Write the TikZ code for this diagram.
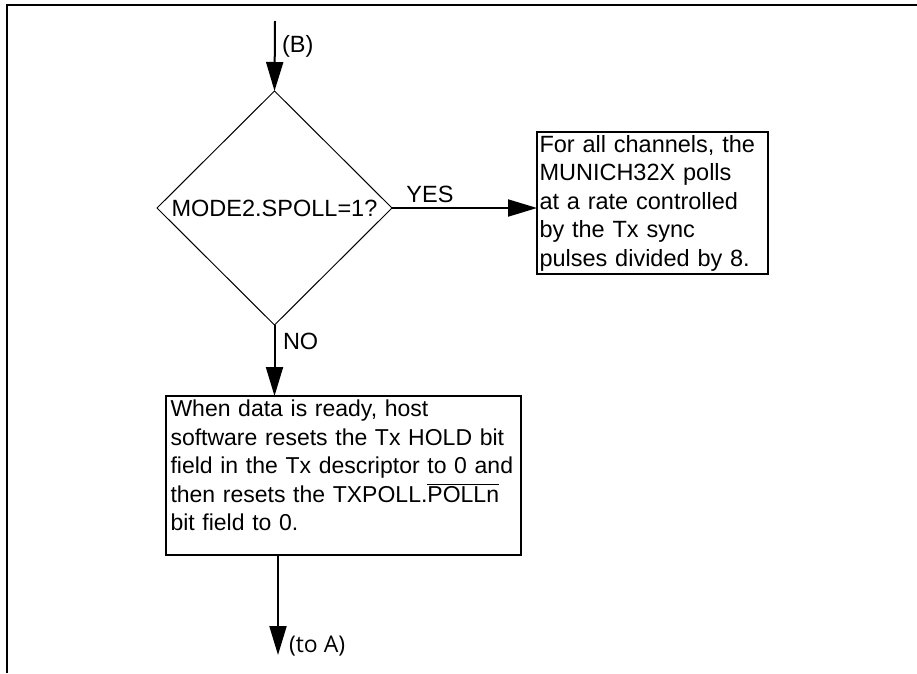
\documentclass[tikz,border=0pt]{standalone}
\usepackage{fontspec}
\setmainfont{Liberation Sans}
\newfontfamily\labfont{Open Sans}
\usetikzlibrary{shapes.geometric,arrows.meta}
\newcommand\ovlbar[1]{\leavevmode\vbox{\hrule height 1.3pt\kern1.3pt\hbox{#1}}}
\begin{document}
\begin{tikzpicture}[x=1pt,y=-1pt,
  txt/.style={font=\fontsize{23.5}{28.5}\selectfont, inner sep=0pt, outer sep=0pt},
  flow/.style={line width=2pt, -{Triangle[length=29pt,width=17pt]}},
  boxnode/.style={txt, draw, line width=1.8pt, align=left},
  decision/.style={txt, diamond, draw, line width=1pt, shape aspect=1,
    minimum width=235pt, minimum height=234pt, inner sep=0pt}]
\useasboundingbox (0,0) rectangle (917,673);
\fill[white] (0,0) rectangle (917,673);
% frame
\draw[line width=2pt] (7,673) -- (7,5) -- (917,5);
% nodes
\node[decision] (dec) at (274.5,208) {MODE2.SPOLL=1?};
\node[boxnode, text width=226pt, inner xsep=2.5pt, minimum height=142pt] (rbox) at (652.5,203)
  {For all channels, the\\MUNICH32X polls\\at a rate controlled\\by the Tx sync\\pulses divided by 8.};
\node[boxnode, font=\fontsize{23}{28.5}\selectfont, text width=346pt, inner xsep=4.5pt, minimum height=159pt] (bbox) at (343.5,475.5)
  {When data is ready, host\\software resets the Tx HOLD bit\\field in the Tx descriptor to 0 and\\then resets the TXPOLL.\ovlbar{POLLn}\\bit field to 0.\rule[-20pt]{0pt}{0pt}};
% labels
\node[txt, anchor=west] (lb) at (282,46) {(B)};
\node[txt] (lyes) at (430,194.5) {YES};
\node[txt, anchor=west] (lno) at (283,341) {NO};
\node[txt, font=\labfont\fontsize{23}{28}\selectfont, anchor=west] (la) at (289,646) {(to A)};
% connectors
\coordinate (topstart) at (275,21);
\coordinate (endA) at (278,655);
\draw[flow] (topstart) -- (dec.north);
\draw[flow] (dec.east) -- (dec.east -| rbox.west);
\draw[flow] (dec.south) -- (dec.south |- bbox.north);
\draw[flow] (endA |- bbox.south) -- (endA);
\end{tikzpicture}
\end{document}
